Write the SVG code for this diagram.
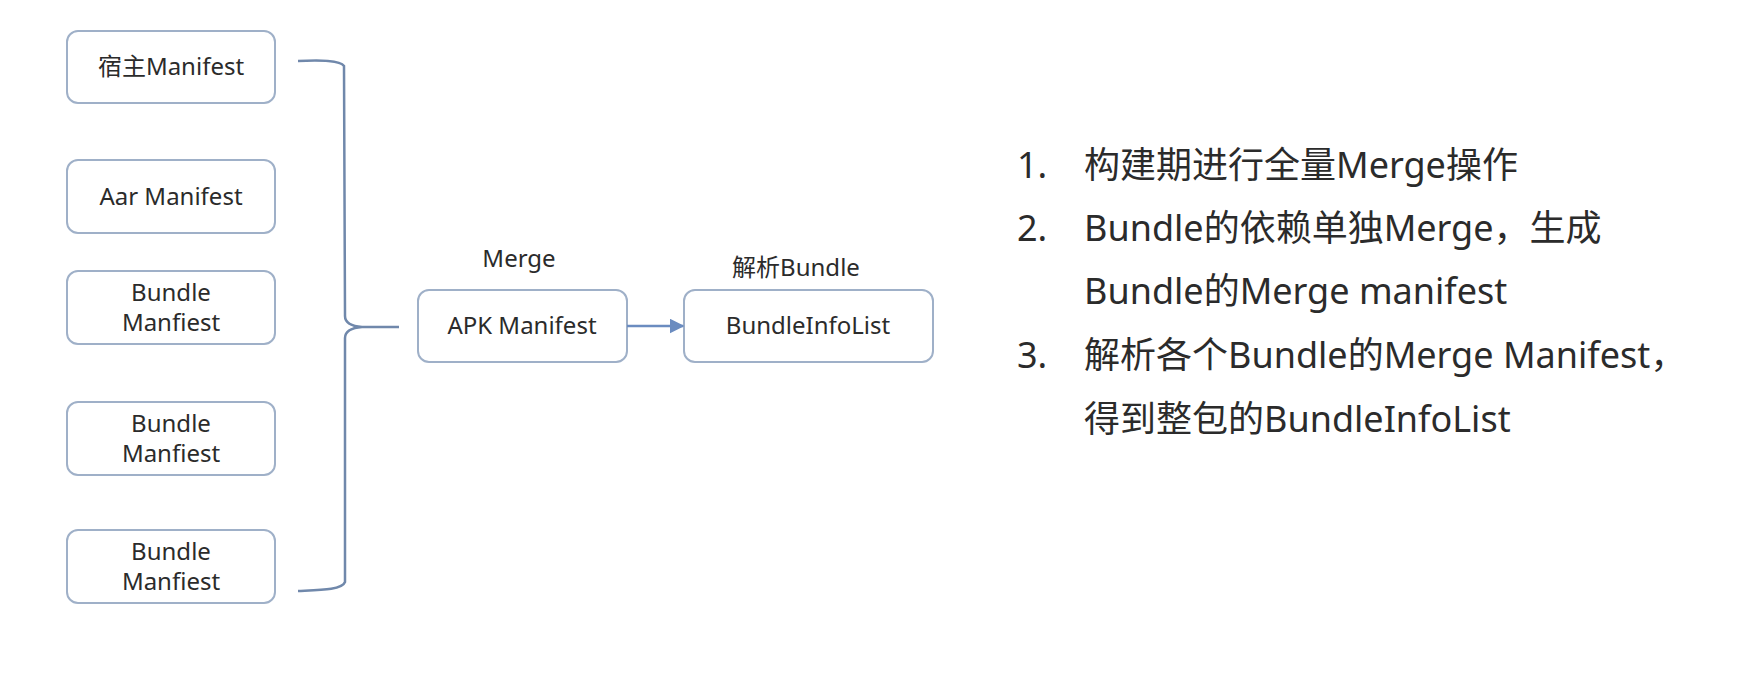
<svg xmlns="http://www.w3.org/2000/svg" width="1762" height="686" viewBox="0 0 1762 686">
<defs>
<style>
.box{fill:#ffffff;stroke:#9fb0c8;stroke-width:2}
.t{font-family:"Noto Sans","Noto Sans CJK SC",sans-serif;font-size:24px;fill:#2b2b2b;text-anchor:middle}
.lbl{font-family:"Noto Sans","Noto Sans CJK SC",sans-serif;font-size:24px;fill:#2b2b2b;text-anchor:middle}
.r{font-family:"Noto Sans","Noto Sans CJK SC",sans-serif;font-size:36px;fill:#2b2b2b}
.con{fill:none;stroke:#7088ab;stroke-width:2.5}
</style>
<marker id="arr" viewBox="0 0 10 10" refX="9" refY="5" markerWidth="6" markerHeight="6" orient="auto">
<path d="M0,0 L10,5 L0,10 z" fill="#6b8cc0"/>
</marker>
</defs>
<rect width="1762" height="686" fill="#ffffff"/>
<g id="n1"><rect class="box" x="67" y="31" width="208" height="72" rx="11"/><text class="t" x="171" y="75">宿主Manifest</text></g>
<g id="n2"><rect class="box" x="67" y="160" width="208" height="73" rx="11"/><text class="t" x="171" y="205">Aar Manifest</text></g>
<g id="n3"><rect class="box" x="67" y="271" width="208" height="73" rx="11"/><text class="t" x="171" y="301">Bundle</text><text class="t" x="171" y="331">Manfiest</text></g>
<g id="n4"><rect class="box" x="67" y="402" width="208" height="73" rx="11"/><text class="t" x="171" y="432">Bundle</text><text class="t" x="171" y="462">Manfiest</text></g>
<g id="n5"><rect class="box" x="67" y="530" width="208" height="73" rx="11"/><text class="t" x="171" y="560">Bundle</text><text class="t" x="171" y="590">Manfiest</text></g>
<g id="apk"><rect class="box" x="418" y="290" width="209" height="72" rx="11"/><text class="t" x="522" y="334">APK Manifest</text><text class="lbl" x="519" y="267">Merge</text></g>
<g id="bil"><rect class="box" x="684" y="290" width="249" height="72" rx="11"/><text class="t" x="808" y="334">BundleInfoList</text><text class="lbl" x="796" y="276">解析Bundle</text></g>
<g id="connectors">
<path class="con" d="M298,61 C320,60 340,60 344,66 L345,316 C345,322 350,326 362,327 L399,327 M345,338 C345,332 350,328 362,327 M345,338 L345,582 C342,590 320,590 298,591"/>
<line x1="627" y1="326" x2="683" y2="326" stroke="#6b8cc0" stroke-width="2.5" marker-end="url(#arr)"/>
</g>
<g id="notes">
<text class="r" x="1017" y="178">1.</text><text class="r" x="1084" y="178">构建期进行全量Merge操作</text>
<text class="r" x="1017" y="241">2.</text><text class="r" x="1084" y="241">Bundle的依赖单独Merge，生成</text>
<text class="r" x="1084" y="304">Bundle的Merge manifest</text>
<text class="r" x="1017" y="368">3.</text><text class="r" x="1084" y="368">解析各个Bundle的Merge Manifest，</text>
<text class="r" x="1084" y="432">得到整包的BundleInfoList</text>
</g>
</svg>
